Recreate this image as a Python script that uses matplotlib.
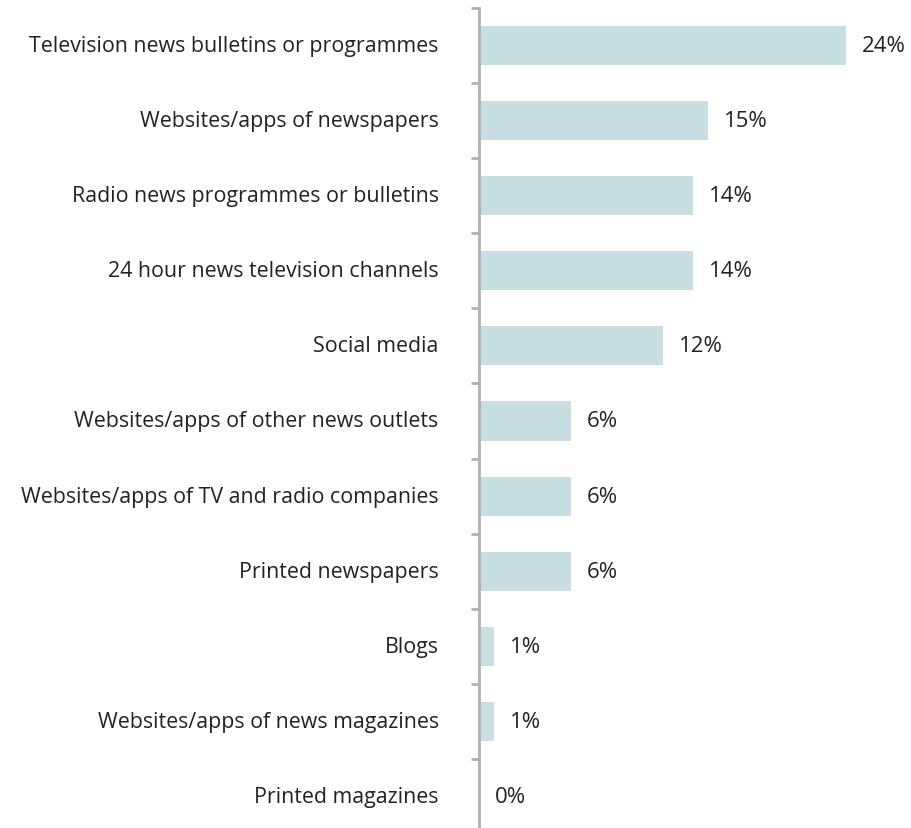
import matplotlib
matplotlib.use("Agg")
import matplotlib.pyplot as plt
import numpy as np

categories = [
    "Television news bulletins or programmes",
    "Websites/apps of newspapers",
    "Radio news programmes or bulletins",
    "24 hour news television channels",
    "Social media",
    "Websites/apps of other news outlets",
    "Websites/apps of TV and radio companies",
    "Printed newspapers",
    "Blogs",
    "Websites/apps of news magazines",
    "Printed magazines",
]
values = [24, 15, 14, 14, 12, 6, 6, 6, 1, 1, 0]
value_labels = ["24%", "15%", "14%", "14%", "12%", "6%", "6%", "6%", "1%", "1%", "0%"]

plt.rcParams['font.family'] = ['Open Sans', 'DejaVu Sans']

W, H = 911, 829
fig = plt.figure(figsize=(W / 100, H / 100), dpi=100)
left = 479 / W
right = 846 / W
top = 1 - 9 / H
bottom = 1 - 835 / H
ax = fig.add_axes([left, bottom, right - left, top - bottom])

y = np.arange(len(categories))
ax.barh(y, values, height=0.52, color="#c9dee0", zorder=2)
ax.set_xlim(0, 24)
ax.set_ylim(len(categories) - 0.5, -0.5)

for yi, v, lab in zip(y, values, value_labels):
    ax.annotate(lab, xy=(v, yi), xytext=(11.5, 0), textcoords="offset points",
                ha="left", va="center", fontsize=16, color="#222222",
                annotation_clip=False)

for yi, c in zip(y, categories):
    ax.annotate(c, xy=(0, yi), xytext=(-29, 0), textcoords="offset points",
                ha="right", va="center", fontsize=15.4, color="#222222",
                annotation_clip=False)

ax.set_yticks(np.arange(-0.5, len(categories), 1.0))
ax.set_yticklabels([])
ax.tick_params(axis="y", length=6, width=2, color="#b0b1b6", direction="out")
ax.set_xticks([])
for s in ["top", "right", "bottom"]:
    ax.spines[s].set_visible(False)
ax.spines["left"].set_color("#b0b1b6")
ax.spines["left"].set_linewidth(2)

fig.savefig("out.png", dpi=100)
